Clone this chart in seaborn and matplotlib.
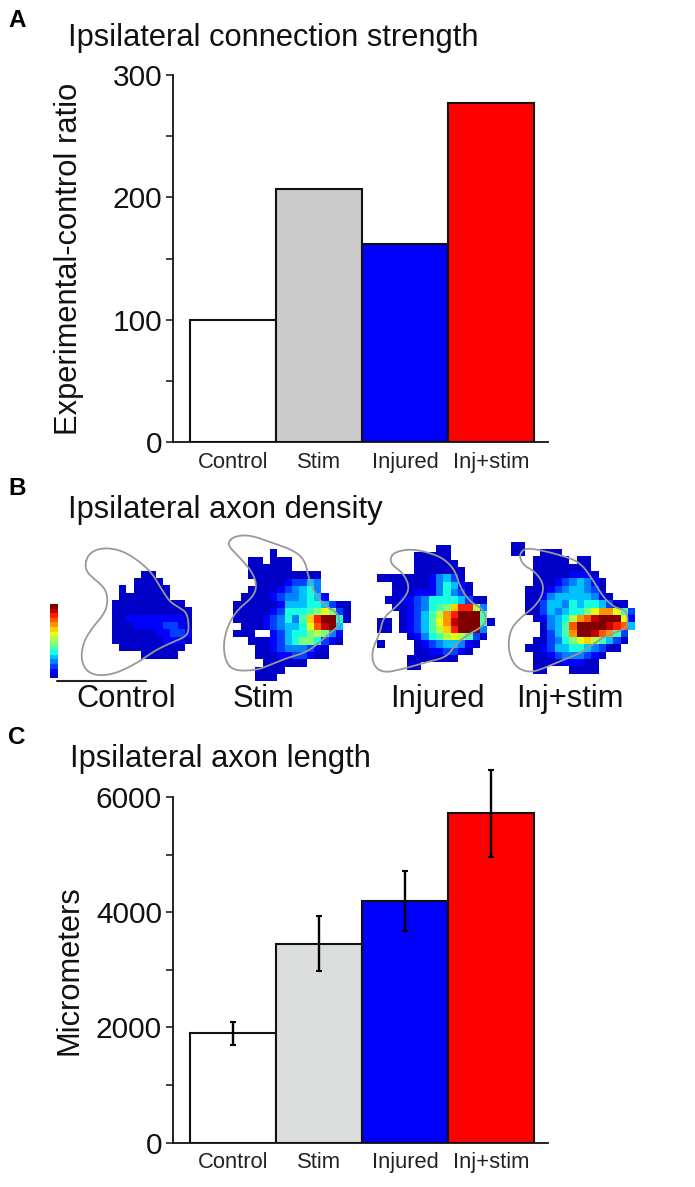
import numpy as np
import pandas as pd
import matplotlib
matplotlib.use('Agg')
import matplotlib.pyplot as plt
import seaborn as sns

W, H = 695, 1187

groups = ['Control', 'Stim', 'Injured', 'Inj+stim']
ratio = [100, 207, 162, 277]
length_um = [1897, 3453, 4200, 5716]
length_low = [1694, 2985, 3673, 4953]
length_high = [2094, 3934, 4710, 6470]
colors_a = ['#ffffff', '#cccccc', '#0000ff', '#ff0000']
colors_c = ['#ffffff', '#dcdddd', '#0000ff', '#ff0000']

# density maps, one char per cell: '.' = empty, 0-9a-f = level
control_rows = [
    "....00.....",
    "...0000....",
    ".0.00000...",
    ".0000000...",
    "0000000000.",
    "00000000000",
    "00111111110",
    "00011112210",
    "00000011221",
    "00000001110",
    ".000000000.",
    "....00000..",
]
stim_rows = [
    ".....0..........",
    "..00.000........",
    "..000000........",
    "..0000000000....",
    "...000012243....",
    "..0000123453....",
    ".000012334541...",
    "0000001444554200",
    "0000012555679720",
    "0000123536adff50",
    ".0001234459cef4.",
    "000..1245578731.",
    "..0001245775210.",
    "...00123332 10..".replace(' ', ''),
    "...0001122100...",
    "....000000......",
    "...0000.........",
    "...000..........",
]
injured_rows = [
    "........00......",
    ".....00000......",
    ".....000000.....",
    ".....0000000....",
    "000000013420....",
    "..00000135410...",
    "..00011135320...",
    ".00112355554200.",
    "..00123567add83.",
    "...012468bdfff6.",
    "00.012469befff60",
    "00.012468adfff3.",
    "....01356898620.",
    "0....012344310..",
    ".....00112210...",
    "....0000000.....",
    "....00..........",
]
injstim_rows = [
    "00...............",
    "00..000..........",
    "...00000.00......",
    "...00000000......",
    "...000001110.....",
    "...0001234310....",
    "..00012344320....",
    "..001344444310...",
    "..00244354554200.",
    "..0024345579bb962",
    "...013458bcefff91",
    "....0346cffffedc4.",
    "....0246bffecb62.",
    "...0023579a86420.",
    "..0012445543200..",
    "...0012333210....",
    "...000011100.....",
    "...00...0000.....",
]
colorbar_levels = [15, 14, 13, 12, 11, 10, 9, 8, 7, 6, 5, 4, 3, 2, 1, 0]

# outlines of the target area, figure pixels
control_outline = [(85, 565), (88, 555), (97, 549), (110, 548), (125, 552), (140, 562), (152, 573),
                   (162, 590), (170, 602), (180, 608), (187, 613), (189, 627), (187, 636), (173, 642),
                   (162, 647), (153, 652), (137, 663), (117, 673), (100, 676), (87, 672), (81, 660),
                   (83, 643), (92, 628), (105, 613), (108, 600), (105, 588), (93, 578), (87, 572)]
stim_outline = [(228, 542), (235, 536), (250, 535), (270, 542), (293, 550), (305, 560), (309, 580),
                (317, 597), (327, 607), (338, 613), (340, 625), (330, 633), (320, 642), (307, 652),
                (287, 658), (270, 665), (257, 670), (237, 671), (227, 665), (223, 647), (227, 627),
                (237, 610), (252, 598), (257, 587), (253, 573), (242, 560), (230, 548)]
injured_outline = [(390, 558), (395, 552), (410, 549), (427, 552), (443, 558), (455, 570), (460, 587),
                   (470, 602), (482, 608), (487, 620), (482, 627), (467, 635), (455, 645), (447, 657),
                   (427, 662), (403, 669), (383, 673), (373, 665), (372, 650), (380, 633), (383, 618),
                   (395, 608), (407, 595), (409, 585), (403, 573), (392, 565)]
injstim_outline = [(519, 555), (525, 548), (540, 550), (560, 555), (580, 562), (593, 580), (603, 597),
                   (615, 608), (627, 610), (628, 627), (617, 632), (603, 637), (583, 652), (563, 660),
                   (547, 667), (530, 673), (515, 667), (508, 650), (510, 630), (520, 618), (537, 605),
                   (545, 588), (537, 573), (523, 565)]

map_labels = ['Control', 'Stim', 'Injured', 'Inj+stim']
map_label_x = [126, 264, 437, 570]


def px_axes(fig, left, top, right, bottom):
    return fig.add_axes([left / W, 1 - bottom / H, (right - left) / W, (bottom - top) / H])


def parse_rows(rows):
    n = max(len(r) for r in rows)
    grid = np.full((len(rows), n), np.nan)
    for i, r in enumerate(rows):
        for j, c in enumerate(r):
            if c != '.':
                grid[i, j] = int(c, 16)
    return grid


def smooth(points):
    # closed curve, corner cutting
    pts = np.array(points, dtype=float)
    for _ in range(3):
        nxt = np.roll(pts, -1, axis=0)
        pts = np.column_stack([0.75 * pts + 0.25 * nxt, 0.25 * pts + 0.75 * nxt]).reshape(-1, 2)
    return np.vstack([pts, pts[0]])


def bar_panel(fig, top, bottom, values, colors, ymax, major, minor, ylabel, title, title_x, title_y, err=None):
    ax = px_axes(fig, 172.5, top, 548, bottom)
    df = pd.DataFrame({'group': groups, 'value': values})
    sns.barplot(data=df, x='group', y='value', hue='group', palette=colors, width=1, saturation=1,
                edgecolor='#111111', linewidth=1.5, legend=False, ax=ax)
    if err is not None:
        ax.errorbar(range(4), values,
                    yerr=[np.array(values) - np.array(err[0]), np.array(err[1]) - np.array(values)],
                    fmt='none', ecolor='black', elinewidth=1.7, capsize=2.2, capthick=1.5, clip_on=False, zorder=5)
    ax.set_xlim(-0.703, 3.66)
    ax.set_ylim(0, ymax)
    ax.set_yticks(major)
    ax.set_yticks(minor, minor=True)
    ax.tick_params(axis='y', which='both', left=True, length=5, width=1.1, labelsize=21.5, pad=2.5,
                   color='#111111', labelcolor='#111111')
    ax.tick_params(axis='x', length=0, labelsize=15.8, pad=7, labelcolor='#222222')
    ax.set_xlabel('')
    ax.set_ylabel(ylabel, fontsize=22.2, color='#111111')
    ax.yaxis.set_label_coords((84 - 172.5) / 375.5, 0.5)
    sns.despine(ax=ax)
    for s in ['left', 'bottom']:
        ax.spines[s].set_linewidth(1.3)
        ax.spines[s].set_color('#111111')
    fig.text(title_x / W, 1 - title_y / H, title, fontsize=22.2, color='#111111', va='baseline')
    return ax


sns.set_style('white')
plt.rcParams['font.family'] = ['Liberation Sans', 'DejaVu Sans']

fig = plt.figure(figsize=(W / 100, H / 100), dpi=100)

bar_panel(fig, 75, 442, ratio, colors_a, 300, [0, 100, 200, 300], [50, 150, 250],
          'Experimental-control ratio', 'Ipsilateral connection strength', 68, 46)
bar_panel(fig, 797, 1142.6, length_um, colors_c, 6000, [0, 2000, 4000, 6000], [1000, 3000, 5000],
          'Micrometers', 'Ipsilateral axon length', 70, 767, err=(length_low, length_high))

# density maps
cell = 22 / 3
maps = [(control_rows, 111.7, 570.7), (stim_rows, 233.3, 549.3),
        (injured_rows, 377.3, 545), (injstim_rows, 510.7, 541.7)]
for rows, left, top in maps:
    grid = parse_rows(rows)
    ax = px_axes(fig, left, top, left + grid.shape[1] * cell, top + grid.shape[0] * cell)
    sns.heatmap(grid, cmap='jet', vmin=-1, vmax=15, cbar=False, xticklabels=False, yticklabels=False, ax=ax)
    ax.set_axis_off()

# colour scale
ax = px_axes(fig, 50, 604, 57.7, 678)
sns.heatmap(np.array(colorbar_levels).reshape(-1, 1), cmap='jet', vmin=-1, vmax=15, cbar=False,
            xticklabels=False, yticklabels=False, ax=ax)
ax.set_axis_off()

# overlay in figure pixels
ov = px_axes(fig, 0, 0, W, H)
ov.set_xlim(0, W)
ov.set_ylim(H, 0)
ov.set_axis_off()
ov.patch.set_alpha(0)
for outline in [control_outline, stim_outline, injured_outline, injstim_outline]:
    p = smooth(outline)
    ov.plot(p[:, 0], p[:, 1], color='#999999', lw=1.3)
ov.plot([57, 146], [680.7, 680.7], color='#222222', lw=1.5)

for lab, x in zip(map_labels, map_label_x):
    ov.text(x, 707, lab, fontsize=22.2, ha='center', va='baseline', color='#111111')
ov.text(68, 518, 'Ipsilateral axon density', fontsize=22.2, color='#111111', va='baseline')
ov.text(8, 27, 'A', fontsize=17.5, fontweight='bold', va='baseline', color='black')
ov.text(8, 495, 'B', fontsize=17.5, fontweight='bold', va='baseline', color='black')
ov.text(8, 744, 'C', fontsize=17.5, fontweight='bold', va='baseline', color='black')

fig.savefig('out.png', dpi=100)
